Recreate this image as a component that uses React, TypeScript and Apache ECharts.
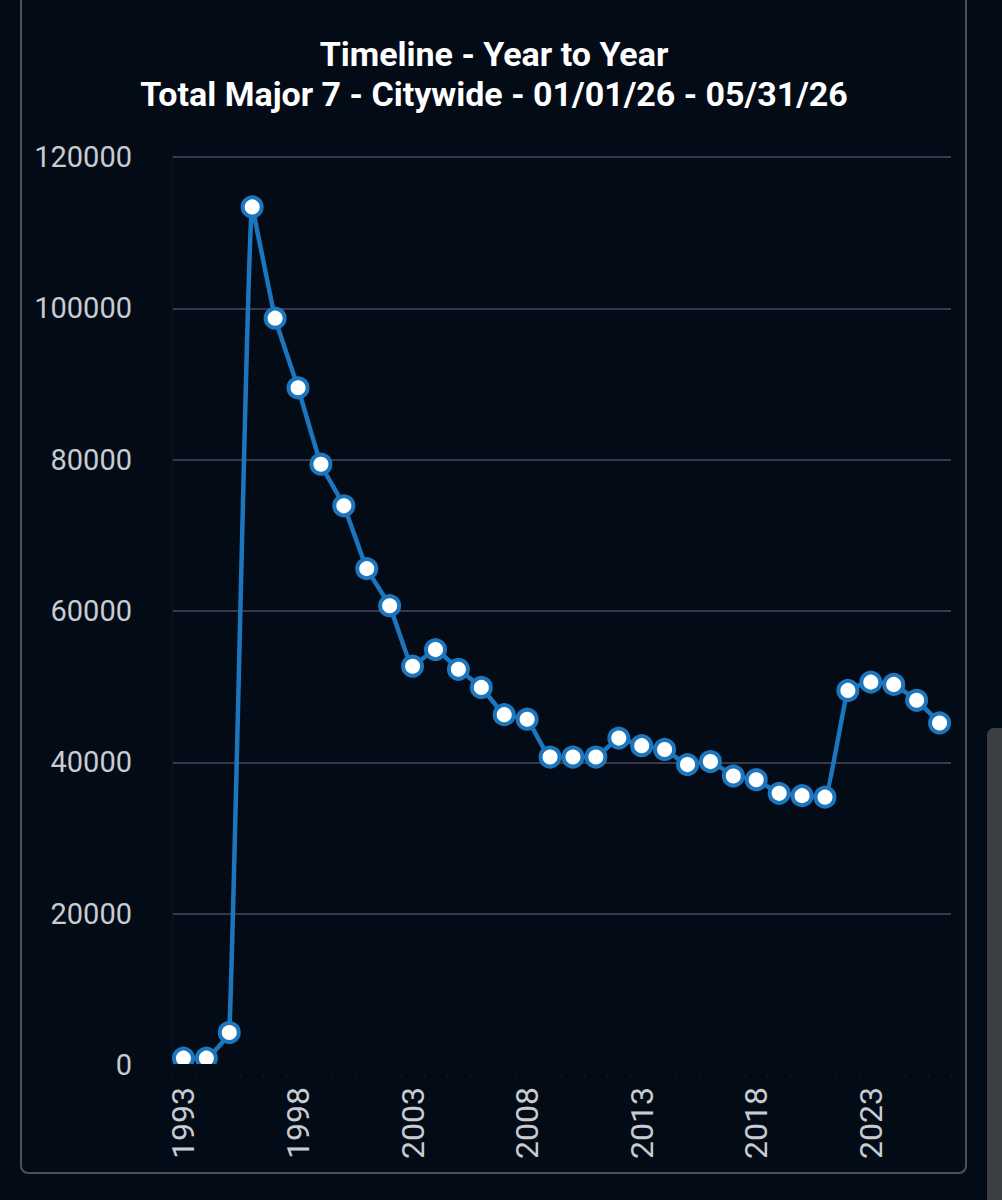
import React, { useEffect, useRef } from "react";
import * as echarts from "echarts";

const titleLines = [
  "Timeline - Year to Year",
  "Total Major 7 - Citywide - 01/01/26 - 05/31/26",
];

const years = [
  "1993", "1994", "1995", "1996", "1997", "1998", "1999", "2000", "2001", "2002",
  "2003", "2004", "2005", "2006", "2007", "2008", "2009", "2010", "2011", "2012",
  "2013", "2014", "2015", "2016", "2017", "2018", "2019", "2020", "2021", "2022",
  "2023", "2024", "2025", "2026",
];

const totals = [
  900, 900, 4300, 113400, 98700, 89500, 79400, 73900, 65600, 60700,
  52700, 54900, 52300, 49900, 46300, 45700, 40700, 40700, 40700, 43200,
  42200, 41700, 39700, 40100, 38200, 37700, 35900, 35600, 35400, 49500,
  50600, 50300, 48200, 45200,
];

const BG = "#030b17";
const BLUE = "#1c76bd";

export default function App() {
  const ref = useRef<HTMLDivElement>(null);

  useEffect(() => {
    document.body.style.margin = "0";
    document.body.style.background = BG;
    const chart = echarts.init(ref.current!, null, { renderer: "svg" });
    chart.setOption({
      animation: false,
      backgroundColor: BG,
      grid: { left: 172, right: 51, top: 157, bottom: 135, containLabel: false },
      graphic: [
        {
          type: "rect",
          shape: { x: 21, y: -20, width: 945, height: 1193, r: 7 },
          style: { fill: "none", stroke: "#4b515a", lineWidth: 2 },
          z: 0,
        },
        {
          type: "rect",
          shape: { x: 987, y: 728, width: 15, height: 480, r: [7, 0, 0, 0] },
          style: { fill: "#3b3e43" },
        },
        {
          type: "rect",
          shape: { x: 160, y: 1064, width: 800, height: 10 },
          style: { fill: BG },
          z: 100,
        },
        {
          type: "text",
          x: 494,
          y: 54,
          style: {
            text: titleLines[0],
            fill: "#ffffff",
            font: "bold 34px Roboto",
            textAlign: "center",
            textVerticalAlign: "middle",
          },
        },
        {
          type: "text",
          x: 494,
          y: 93.5,
          style: {
            text: titleLines[1],
            fill: "#ffffff",
            font: "bold 34px Roboto",
            textAlign: "center",
            textVerticalAlign: "middle",
          },
        },
      ],
      xAxis: {
        type: "category",
        data: years,
        boundaryGap: true,
        axisLine: { show: true, lineStyle: { color: "#0c1420", width: 1 } },
        axisTick: { show: true, interval: 0, length: 12, lineStyle: { color: "#111a26" } },
        axisLabel: {
          interval: 4,
          rotate: 90,
          color: "#c8ccd1",
          fontSize: 32,
          fontFamily: "Roboto",
          margin: 22,
        },
        splitLine: { show: false },
      },
      yAxis: {
        type: "value",
        min: 0,
        max: 120000,
        interval: 20000,
        axisLine: { show: true, lineStyle: { color: "#0c1420", width: 1 } },
        axisTick: { show: false },
        axisLabel: {
          color: "#c8ccd1",
          fontSize: 29,
          fontFamily: "Roboto",
          margin: 40,
          formatter: (v: number) => String(v),
        },
        splitLine: { show: true, lineStyle: { color: "#38374e", width: 2 } },
      },
      series: [
        {
          type: "line",
          data: totals,
          smooth: 0.1,
          symbol: "circle",
          symbolSize: 19,
          showSymbol: true,
          showAllSymbol: true,
          lineStyle: { color: BLUE, width: 4.5 },
          itemStyle: { color: "#ffffff", borderColor: BLUE, borderWidth: 4 },
          z: 5,
        },
      ],
    });
    return () => chart.dispose();
  }, []);

  return (
    <div
      ref={ref}
      style={{ position: "absolute", left: 0, top: 0, width: 1002, height: 1200, background: BG }}
    />
  );
}
